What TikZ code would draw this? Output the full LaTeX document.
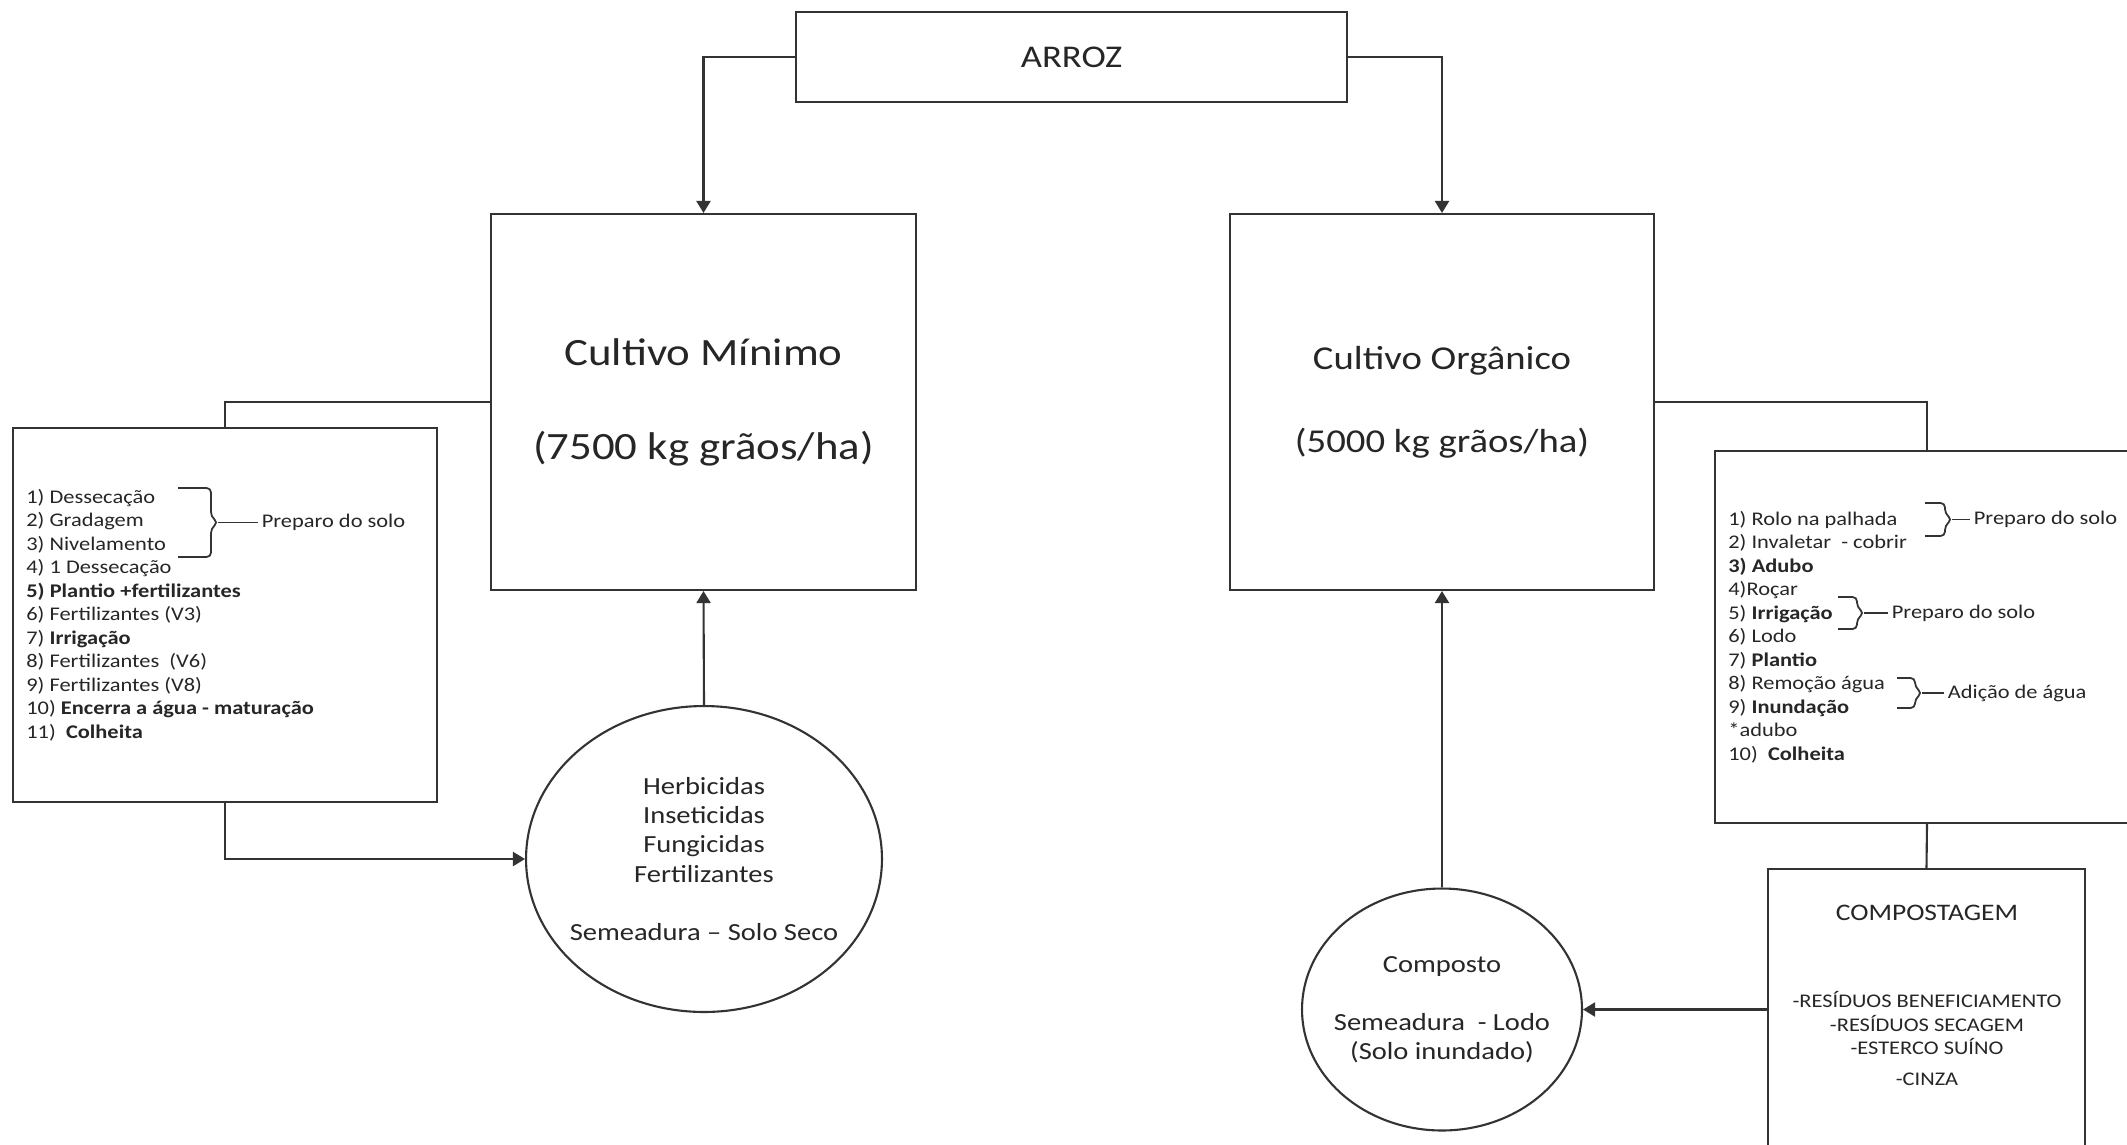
\documentclass[tikz,border=0pt]{standalone}
\usepackage{fontspec}
\setmainfont{Carlito}[FakeStretch=1.16]
\usetikzlibrary{arrows.meta,shapes.geometric}

\tikzset{
  fio/.style={draw=black!80, line width=1.2pt},
  caixa/.style={fio, rectangle, inner sep=0pt},
  elipse/.style={fio, ellipse, inner sep=0pt},
  textoel/.style={align=center, inner sep=0pt, font=\fontsize{14}{16.6}\selectfont},
  seta/.style={fio, -{Triangle[length=2.4mm,width=2.8mm]}},
  lista/.style={align=left, inner sep=0pt, font=\fontsize{11}{13.4}\selectfont},
  rotulo/.style={anchor=west, inner sep=2pt, font=\fontsize{11}{13.4}\selectfont},
}
% chave: nome da ponta, x do braco, x da vertical, y topo, y base
\newcommand{\chave}[5]{%
  \draw[fio, line width=1pt, rounded corners=2.5pt] (#2,#4) -- (#3,#4) -- (#3,{(#4+#5)/2-6})
    -- ({#3+7},{(#4+#5)/2}) -- (#3,{(#4+#5)/2+6}) -- (#3,#5) -- (#2,#5);
  \coordinate (#1) at ({#3+7},{(#4+#5)/2});}

\begin{document}
\begin{tikzpicture}[x=0.02cm, y=-0.02cm, text=black!85]
    \path[fill=white] (0,0) rectangle (2127,1144);
    \useasboundingbox (0,0) rectangle (2127,1144);

    \node[caixa, minimum width=11.02cm, minimum height=1.8cm, font=\fontsize{18}{22}\selectfont] (arroz) at (1071.5,57) {ARROZ};
    \node[caixa, minimum width=8.5cm, minimum height=7.52cm, align=center, font=\fontsize{22}{26.8}\selectfont] (minimo) at (703.5,402) {Cultivo Mínimo\\[26.8pt](7500 kg grãos/ha)};
    \node[caixa, minimum width=8.48cm, minimum height=7.52cm, align=center, font=\fontsize{19}{23.6}\selectfont] (organico) at (1442,402) {Cultivo Orgânico\\[23.6pt](5000 kg grãos/ha)};

    % lista do cultivo minimo
    \node[caixa, minimum width=8.48cm, minimum height=7.48cm] (listaM) at (225,615) {};
    \node[lista, anchor=west] (passosM) at (26,615) {1) Dessecação\\2) Gradagem\\3) Nivelamento\\4) 1 Dessecação\\\textbf{5) Plantio +fertilizantes}\\6) Fertilizantes (V3)\\7) \textbf{Irrigação}\\8) Fertilizantes~ (V6)\\9) Fertilizantes (V8)\\10) \textbf{Encerra a água - maturação}\\11)~ \textbf{Colheita}};
    \chave{tM}{178}{211}{488}{557}
    \node[rotulo] (prepM) at (258,522.5) {Preparo do solo};
    \draw[fio, line width=1pt] (tM) -- (prepM.west);

    % lista do cultivo organico
    \node[caixa, minimum width=8.48cm, minimum height=7.44cm] (listaO) at (1927,637) {};
    \node[lista, anchor=west] (passosO) at (1728,637) {1) Rolo na palhada\\2) Invaletar~ - cobrir\\\textbf{3) Adubo}\\4)Roçar\\5) \textbf{Irrigação}\\6) Lodo\\7) \textbf{Plantio}\\8) Remoção água\\9) \textbf{Inundação}\\*adubo\\10)~ \textbf{Colheita}};
    \chave{t1}{1925}{1945}{503}{536}
    \chave{t2}{1838}{1857}{597}{629}
    \chave{t3}{1897}{1915}{678}{708}
    \node[rotulo] (prep1) at (1970,519.5) {Preparo do solo};
    \node[rotulo] (prep2) at (1888,613) {Preparo do solo};
    \node[rotulo] (agua) at (1944,693) {Adição de água};
    \draw[fio, line width=1pt] (t1) -- (prep1.west);
    \draw[fio, line width=1pt] (t2) -- (prep2.west);
    \draw[fio, line width=1pt] (t3) -- (agua.west);

    \node[elipse, minimum width=7.12cm, minimum height=6.12cm] (insumos) at (704,859) {};
    \node[textoel] (insumosT) at (insumos.center) {Herbicidas\\Inseticidas\\Fungicidas\\Fertilizantes\\[16.6pt]Semeadura – Solo Seco};
    \node[elipse, minimum width=5.6cm, minimum height=4.84cm] (composto) at (1442,1009.5) {};
    \node[textoel] (compostoT) at (composto.center) {Composto\\[16.6pt]Semeadura~ - Lodo\\(Solo inundado)};

    \node[caixa, minimum width=6.34cm, minimum height=5.62cm] (compost) at (1926.5,1009.5) {};
    \node[font=\fontsize{13.5}{16}\selectfont] (compTit) at (1927,913) {COMPOSTAGEM};
    \node[align=center, inner sep=0pt, font=\fontsize{11}{13.4}\selectfont] (compItens) at (1927,1038.5) {-RESÍDUOS BENEFICIAMENTO\\-RESÍDUOS SECAGEM\\-ESTERCO SUÍNO\\[4pt]-CINZA};

    \draw[seta] (arroz.west) -| (minimo.north);
    \draw[seta] (arroz.east) -| (organico.north);
    \draw[fio] (minimo.west) -| (listaM.north);
    \draw[seta] (listaM.south) |- (insumos.west);
    \draw[seta] (insumos.north) to (minimo.south);
    \draw[fio] (organico.east) -| (listaO.north);
    \draw[fio] (listaO.south) to (compost.north);
    \draw[seta] (compost.west) to (composto.east);
    \draw[seta] (composto.north) to (organico.south);
\end{tikzpicture}
\end{document}
